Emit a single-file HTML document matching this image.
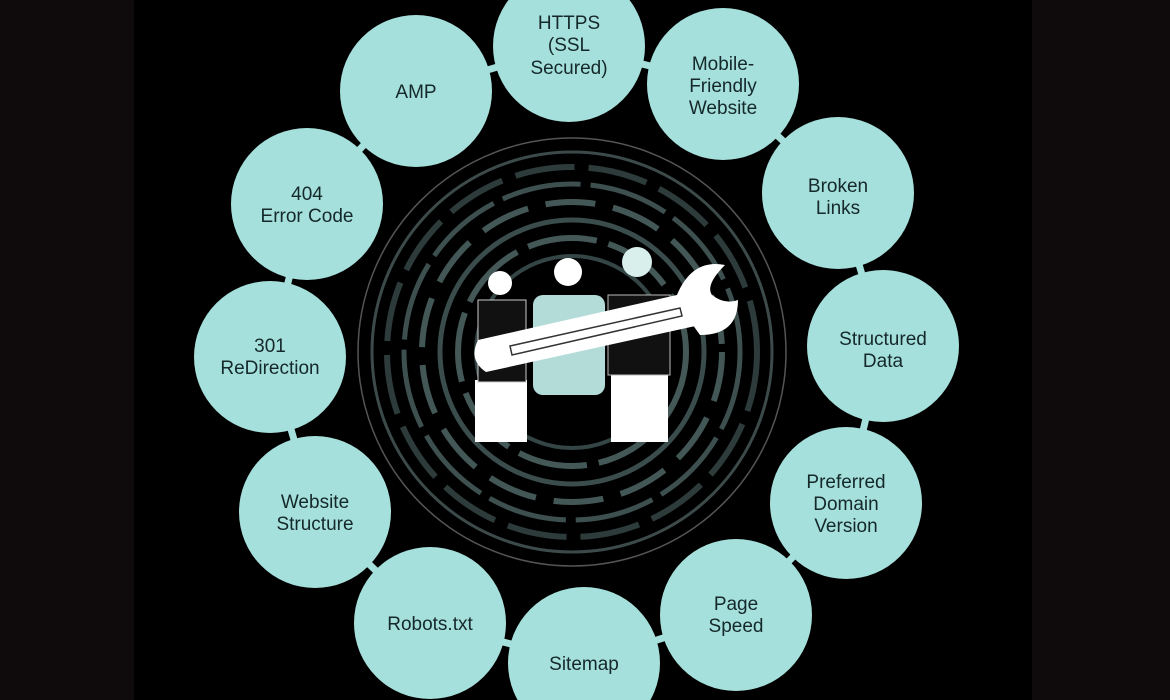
<!DOCTYPE html>
<html><head><meta charset="utf-8"><style>
html,body{margin:0;padding:0;background:#000;width:1170px;height:700px;overflow:hidden;}
svg{display:block}
text{font-family:"Liberation Sans",sans-serif;font-size:19px;fill:#15282a;text-anchor:middle}
</style></head><body>
<svg width="1170" height="700" viewBox="0 0 1170 700">
<rect width="1170" height="700" fill="#000"/>
<rect x="0" y="0" width="134" height="700" fill="#0f0b0c"/>
<rect x="1032" y="0" width="138" height="700" fill="#0f0b0c"/>
<g fill="none">
<circle cx="572" cy="352" r="214" stroke="#555" stroke-width="1.5"/>
<circle cx="572" cy="352" r="200" stroke="#3d4a4a" stroke-width="3"/>
<circle cx="572" cy="352" r="185" stroke="#2e3b3b" stroke-width="6" stroke-dasharray="60 14"/>
<circle cx="572" cy="352" r="168" stroke="#3d4f4f" stroke-width="5" stroke-dasharray="80 10"/>
<circle cx="572" cy="352" r="150" stroke="#445757" stroke-width="6" stroke-dasharray="50 18"/>
<circle cx="572" cy="352" r="132" stroke="#3a4c4c" stroke-width="5"/>
<circle cx="572" cy="352" r="114" stroke="#455858" stroke-width="6" stroke-dasharray="70 12"/>
<circle cx="572" cy="352" r="96" stroke="#344545" stroke-width="4"/>
</g>
<g>
<rect x="475" y="380" width="52" height="62" fill="#fff"/>
<rect x="478" y="300" width="48" height="82" fill="#111" stroke="#ccc" stroke-width="1"/>
<circle cx="500" cy="283" r="12" fill="#fff"/>
<rect x="533" y="295" width="72" height="100" rx="10" fill="#b3dcd8"/>
<circle cx="568" cy="272" r="14" fill="#fff"/>
<rect x="611" y="370" width="57" height="72" fill="#fff"/>
<rect x="608" y="295" width="62" height="80" fill="#111" stroke="#bbb" stroke-width="1"/>
<circle cx="637" cy="262" r="15" fill="#d9efec"/>
<path d="M478 340 L690 292 L700 325 L486 372 Q468 360 478 340Z" fill="#fff"/>
<path d="M675 300 Q690 258 725 265 Q705 285 712 295 Q725 305 738 300 Q738 335 700 335 Z" fill="#fff"/>
<path d="M510 346 L680 308 L682 316 L512 355Z" fill="none" stroke="#333" stroke-width="1.5"/>
</g>
<g stroke="#a5e0dc" stroke-width="7">
<polyline fill="none" points="569,46 723,84 838,193 883,346 846,503 736,615 584,663 430,623 315,512 270,357 307,204 416,91 569,46"/>
</g>
<g fill="#a5e0dc">
<circle cx="569" cy="46" r="76"/>
<circle cx="723" cy="84" r="76"/>
<circle cx="416" cy="91" r="76"/>
<circle cx="838" cy="193" r="76"/>
<circle cx="307" cy="204" r="76"/>
<circle cx="883" cy="346" r="76"/>
<circle cx="270" cy="357" r="76"/>
<circle cx="846" cy="503" r="76"/>
<circle cx="315" cy="512" r="76"/>
<circle cx="736" cy="615" r="76"/>
<circle cx="430" cy="623" r="76"/>
<circle cx="584" cy="663" r="76"/>
</g>
<text x="569" y="29">HTTPS</text><text x="569" y="51">(SSL</text><text x="569" y="74">Secured)</text>
<text x="723" y="70">Mobile-</text><text x="723" y="92">Friendly</text><text x="723" y="114">Website</text>
<text x="416" y="98">AMP</text>
<text x="838" y="192">Broken</text><text x="838" y="214">Links</text>
<text x="307" y="200">404</text><text x="307" y="222">Error Code</text>
<text x="883" y="345">Structured</text><text x="883" y="367">Data</text>
<text x="270" y="352">301</text><text x="270" y="374">ReDirection</text>
<text x="846" y="488">Preferred</text><text x="846" y="510">Domain</text><text x="846" y="532">Version</text>
<text x="315" y="508">Website</text><text x="315" y="530">Structure</text>
<text x="736" y="610">Page</text><text x="736" y="632">Speed</text>
<text x="430" y="630">Robots.txt</text>
<text x="584" y="670">Sitemap</text>
</svg>
</body></html>
